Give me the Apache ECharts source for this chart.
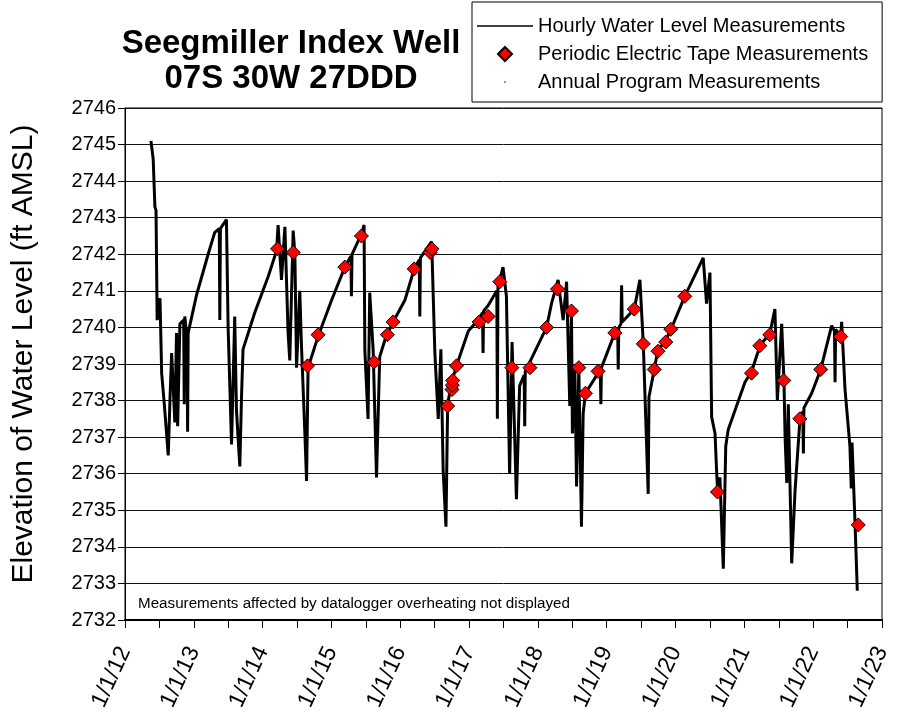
<!DOCTYPE html>
<html>
<head>
<meta charset="utf-8">
<title>Seegmiller Index Well</title>
<script src="https://cdn.jsdelivr.net/npm/echarts@6/dist/echarts.min.js"></script>
<style>
  html, body { margin: 0; padding: 0; background: #fff; }
  #chart_container { width: 898px; height: 715px; }
</style>
</head>
<body>
<div id="chart_container"></div>
<script>
var dom = document.getElementById("chart_container");
var myChart = echarts.init(dom, null, { renderer: "canvas" });
var option;

// hourly logger record as [date, elevation ft AMSL]
var hourly = [
  ["2012-05-18", 2745.1], ["2012-05-30", 2744.6], ["2012-06-08", 2743.3], ["2012-06-14", 2743.2],
  ["2012-06-20", 2740.2], ["2012-07-05", 2740.8], ["2012-07-14", 2738.75], ["2012-07-28", 2737.9],
  ["2012-08-18", 2736.5], ["2012-08-27", 2738.0], ["2012-09-05", 2739.3], ["2012-09-22", 2737.4],
  ["2012-10-01", 2739.85], ["2012-10-07", 2737.3], ["2012-10-19", 2740.1], ["2012-11-08", 2740.2],
  ["2012-11-11", 2737.9], ["2012-11-14", 2740.3], ["2012-11-26", 2739.7], ["2012-11-29", 2737.15],
  ["2012-12-02", 2739.85], ["2013-01-16", 2740.9], ["2013-03-18", 2742.0], ["2013-04-22", 2742.6],
  ["2013-05-16", 2742.7], ["2013-05-19", 2740.2], ["2013-05-22", 2742.7], ["2013-06-23", 2742.95],
  ["2013-07-02", 2740.0], ["2013-07-20", 2736.8], ["2013-08-06", 2740.3], ["2013-08-15", 2737.75],
  ["2013-09-02", 2736.2], ["2013-09-11", 2738.1], ["2013-09-19", 2739.4], ["2013-11-20", 2740.4],
  ["2014-01-31", 2741.4], ["2014-03-16", 2742.1], ["2014-03-24", 2742.8], ["2014-04-11", 2741.3],
  ["2014-04-29", 2742.75], ["2014-05-16", 2739.85], ["2014-05-25", 2739.1], ["2014-06-12", 2742.65],
  ["2014-06-21", 2742.0], ["2014-06-30", 2738.9], ["2014-07-17", 2741.0], ["2014-07-26", 2739.5],
  ["2014-08-13", 2737.1], ["2014-08-22", 2735.8], ["2014-08-30", 2738.9], ["2014-10-22", 2739.75],
  ["2015-01-02", 2740.75], ["2015-03-13", 2741.65], ["2015-04-14", 2741.95], ["2015-04-17", 2740.85],
  ["2015-04-20", 2742.0], ["2015-06-09", 2742.55], ["2015-06-23", 2742.8], ["2015-06-27", 2739.4],
  ["2015-07-14", 2737.5], ["2015-07-23", 2740.95], ["2015-08-10", 2739.4], ["2015-08-28", 2735.9],
  ["2015-09-14", 2739.2], ["2015-10-11", 2739.65], ["2015-11-24", 2740.15], ["2016-01-26", 2740.75],
  ["2016-03-15", 2741.6], ["2016-04-11", 2741.85], ["2016-04-14", 2740.3], ["2016-04-17", 2741.9],
  ["2016-06-16", 2742.35], ["2016-07-03", 2739.3], ["2016-07-21", 2737.5], ["2016-08-04", 2739.4],
  ["2016-08-16", 2736.1], ["2016-08-31", 2734.55], ["2016-09-09", 2737.9], ["2016-09-30", 2738.5],
  ["2016-10-26", 2738.95], ["2016-12-28", 2739.9], ["2017-02-18", 2740.2], ["2017-03-13", 2740.4],
  ["2017-03-16", 2739.3], ["2017-03-19", 2740.45], ["2017-04-12", 2740.6], ["2017-05-28", 2741.0],
  ["2017-05-31", 2737.5], ["2017-06-03", 2741.1], ["2017-06-30", 2741.65], ["2017-07-18", 2740.85],
  ["2017-07-26", 2738.55], ["2017-08-04", 2736.0], ["2017-08-17", 2739.6], ["2017-09-09", 2735.3],
  ["2017-09-26", 2738.4], ["2017-10-20", 2738.7], ["2017-10-23", 2737.3], ["2017-10-26", 2738.8],
  ["2018-02-16", 2740.0], ["2018-03-14", 2740.65], ["2018-04-18", 2741.3], ["2018-05-15", 2740.2],
  ["2018-06-02", 2741.25], ["2018-06-19", 2737.85], ["2018-06-28", 2740.45], ["2018-07-03", 2737.1],
  ["2018-07-16", 2738.85], ["2018-07-25", 2735.65], ["2018-08-06", 2738.9], ["2018-08-20", 2734.55],
  ["2018-08-29", 2737.65], ["2018-09-10", 2738.2], ["2018-11-16", 2738.75], ["2018-11-28", 2738.8],
  ["2018-12-01", 2737.9], ["2018-12-04", 2738.9], ["2019-02-13", 2739.85], ["2019-02-28", 2739.95],
  ["2019-03-03", 2738.85], ["2019-03-06", 2740.0], ["2019-03-18", 2740.1], ["2019-03-21", 2741.15],
  ["2019-03-24", 2740.15], ["2019-05-27", 2740.5], ["2019-06-26", 2741.3], ["2019-07-14", 2739.55],
  ["2019-08-09", 2735.45], ["2019-08-13", 2738.1], ["2019-09-10", 2738.85], ["2019-09-28", 2739.35],
  ["2019-11-10", 2739.65], ["2019-12-08", 2739.95], ["2020-02-19", 2740.85], ["2020-05-27", 2741.9],
  ["2020-06-14", 2740.65], ["2020-07-02", 2741.5], ["2020-07-11", 2737.55], ["2020-07-29", 2737.1],
  ["2020-08-07", 2736.0], ["2020-08-12", 2735.5], ["2020-08-24", 2735.9], ["2020-09-11", 2733.4],
  ["2020-09-24", 2736.75], ["2020-10-07", 2737.2], ["2021-01-04", 2738.5], ["2021-02-09", 2738.8],
  ["2021-03-25", 2739.5], ["2021-05-17", 2739.85], ["2021-06-12", 2740.5], ["2021-06-25", 2738.0],
  ["2021-07-18", 2740.1], ["2021-07-30", 2738.55], ["2021-08-05", 2737.0], ["2021-08-14", 2735.75],
  ["2021-08-22", 2737.9], ["2021-09-09", 2733.55], ["2021-09-27", 2735.55], ["2021-10-23", 2737.5],
  ["2021-11-07", 2737.7], ["2021-11-10", 2736.55], ["2021-11-13", 2737.8], ["2021-12-24", 2738.2],
  ["2022-02-10", 2738.85], ["2022-04-09", 2740.05], ["2022-04-24", 2739.9], ["2022-04-27", 2738.5],
  ["2022-04-30", 2739.95], ["2022-05-27", 2739.75], ["2022-06-01", 2740.15], ["2022-06-19", 2738.3],
  ["2022-07-15", 2736.75], ["2022-07-22", 2735.6], ["2022-07-26", 2736.85], ["2022-08-11", 2734.65],
  ["2022-08-23", 2732.8]
];

// periodic e-tape readings
var tape = [
  ["2014-03-21", 2742.15], ["2014-06-12", 2742.05], ["2014-08-27", 2738.95], ["2014-10-22", 2739.8],
  ["2015-03-13", 2741.65], ["2015-06-09", 2742.5], ["2015-08-15", 2739.05], ["2015-10-25", 2739.8],
  ["2015-11-24", 2740.15], ["2016-03-15", 2741.6], ["2016-06-08", 2742.05], ["2016-06-17", 2742.15],
  ["2016-09-09", 2737.85], ["2016-10-02", 2738.3], ["2016-10-04", 2738.42], ["2016-10-06", 2738.55],
  ["2016-10-26", 2738.95], ["2017-02-23", 2740.15], ["2017-04-12", 2740.3], ["2017-06-13", 2741.25],
  ["2017-08-16", 2738.9], ["2017-11-20", 2738.9], ["2018-02-16", 2740.0], ["2018-04-15", 2741.05],
  ["2018-06-28", 2740.45], ["2018-08-06", 2738.9], ["2018-09-10", 2738.2], ["2018-11-16", 2738.8],
  ["2019-02-13", 2739.85], ["2019-05-27", 2740.5], ["2019-07-14", 2739.55], ["2019-09-10", 2738.85],
  ["2019-09-30", 2739.35], ["2019-11-10", 2739.6], ["2019-12-07", 2739.95], ["2020-02-19", 2740.85],
  ["2020-08-11", 2735.5], ["2021-02-08", 2738.75], ["2021-03-24", 2739.5], ["2021-05-16", 2739.8],
  ["2021-07-29", 2738.55], ["2021-10-22", 2737.5], ["2022-02-10", 2738.85], ["2022-05-27", 2739.75],
  ["2022-08-28", 2734.6]
];

// none shown on this plot
var annual = [];

var seriesNames = [
  "Hourly Water Level Measurements",
  "Periodic Electric Tape Measurements",
  "Annual Program Measurements"
];

// date string -> decimal year so the x axis can tick every half year
function toYear(d) {
  var t = Date.parse(d + "T00:00:00Z");
  var y = new Date(t).getUTCFullYear();
  var a = Date.UTC(y, 0, 1), b = Date.UTC(y + 1, 0, 1);
  return y + (t - a) / (b - a);
}
function toXY(list) {
  return list.map(function (p) { return [toYear(p[0]), p[1]]; });
}

option = {
  animation: false,
  backgroundColor: "#fff",
  textStyle: { fontFamily: "Liberation Sans, Arial, sans-serif", color: "#000" },
  title: {
    text: "Seegmiller Index Well\n07S 30W 27DDD",
    left: 286,
    top: 21,
    textAlign: "center",
    textStyle: { fontSize: 33, fontWeight: "bold", lineHeight: 35, color: "#000",
      fontFamily: "Liberation Sans, Arial, sans-serif" }
  },
  legend: {
    orient: "vertical",
    left: 472,
    top: 2,
    padding: [14, 14, 10, 4],
    itemGap: 8,
    itemWidth: 56,
    itemHeight: 14,
    borderColor: "#000",
    borderWidth: 1,
    borderRadius: 0,
    backgroundColor: "#fff",
    textStyle: { fontSize: 20, color: "#000" },
    data: [
      {
        name: seriesNames[0],
        itemStyle: { color: "rgba(0,0,0,0)", borderColor: "rgba(0,0,0,0)", borderWidth: 0 },
        lineStyle: { color: "#000", width: 1.5 }
      },
      { name: seriesNames[1], icon: "path://M0,0M56,14M28,0L35,7L28,14L21,7Z" },
      { name: seriesNames[2], icon: "path://M0,0M56,14M27.3,6.3L28.7,6.3L28.7,7.7L27.3,7.7Z" }
    ]
  },
  grid: {
    left: 125, right: 16, top: 108, bottom: 95,
    show: true, borderColor: "#000", borderWidth: 1
  },
  xAxis: {
    type: "value",
    min: 2012,
    max: 2023,
    interval: 1,
    axisLine: { lineStyle: { color: "#000", width: 2 } },
    axisTick: { length: 8, lineStyle: { color: "#000", width: 1 } },
    minorTick: { show: true, splitNumber: 2, length: 8, lineStyle: { color: "#000", width: 1 } },
    splitLine: { show: false },
    minorSplitLine: { show: false },
    axisLabel: {
      rotate: 65,
      fontSize: 23,
      color: "#000",
      margin: 28,
      formatter: function (v) { return "1/1/" + String(Math.round(v)).slice(2); }
    }
  },
  yAxis: {
    type: "value",
    min: 2732,
    max: 2746,
    interval: 1,
    name: "Elevation of Water Level (ft AMSL)",
    nameLocation: "middle",
    nameGap: 86,
    nameTextStyle: { fontSize: 30, color: "#000", padding: [0, 0, 0, 20] },
    axisLine: { show: true, lineStyle: { color: "#000", width: 1 } },
    axisTick: { show: true, length: 7, lineStyle: { color: "#000" } },
    splitLine: { show: true, lineStyle: { color: "#111", width: 1 } },
    axisLabel: {
      fontSize: 20,
      color: "#000",
      margin: 9,
      formatter: function (v) { return String(v); }
    }
  },
  graphic: [
    {
      type: "text",
      left: 138,
      top: 596,
      style: {
        text: "Measurements affected by datalogger overheating not displayed",
        fontSize: 15.2,
        fill: "#000",
        fontFamily: "Liberation Sans, Arial, sans-serif"
      }
    }
  ],
  series: [
    {
      name: seriesNames[0],
      type: "line",
      data: toXY(hourly),
      showSymbol: false,
      symbol: "none",
      lineStyle: { color: "#000", width: 3 },
      itemStyle: { color: "#000" },
      silent: true
    },
    {
      name: seriesNames[1],
      type: "scatter",
      data: toXY(tape),
      symbol: "diamond",
      symbolSize: 14,
      itemStyle: { color: "#ff0000", borderColor: "#000", borderWidth: 1, opacity: 1 },
      z: 3
    },
    {
      name: seriesNames[2],
      type: "scatter",
      data: toXY(annual),
      symbol: "circle",
      symbolSize: 2,
      itemStyle: { color: "#000" }
    }
  ]
};

if (option && typeof option === "object") {
  myChart.setOption(option);
}

window.addEventListener("resize", myChart.resize);
</script>
</body>
</html>
